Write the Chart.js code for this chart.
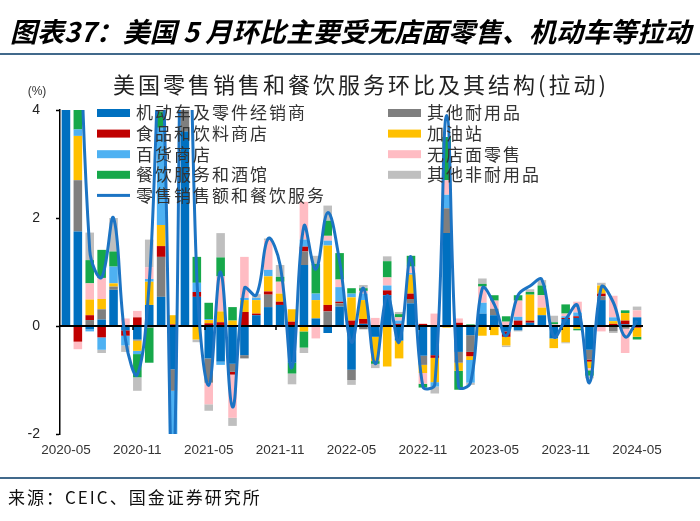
<!DOCTYPE html>
<html>
<head>
<meta charset="utf-8">
<script src="https://cdn.jsdelivr.net/npm/chart.js@4.4.0/dist/chart.umd.min.js"></script>
<style>
  body { margin: 0; background: #fff; }
  #wrap { position: relative; width: 700px; height: 521px; overflow: hidden; }
  #chart { position: absolute; left: 0; top: 0; }
  .rule { position: absolute; left: 0; width: 700px; height: 2px; background: #41698b; }
  #headline { position: absolute; left: 10px; top: 11px; font: italic bold 27px "Noto Sans CJK SC"; white-space: nowrap; color: #000; }
  #source { position: absolute; left: 8px; top: 484px; font: 17px "Noto Sans CJK SC"; letter-spacing: 2px; color: #111; }
</style>
</head>
<body>
<div id="wrap">
  <canvas id="chart" width="700" height="521"></canvas>
  <div id="headline">图表37：美国 5 月环比主要受无店面零售、机动车等拉动</div>
  <div class="rule" style="top:53px"></div>
  <div class="rule" style="top:477px"></div>
  <div id="source">来源：CEIC、国金证券研究所</div>
</div>
<script>
// month labels, 2020-05 .. 2024-05
const months = [
  '2020-05','2020-06','2020-07','2020-08','2020-09','2020-10','2020-11','2020-12',
  '2021-01','2021-02','2021-03','2021-04','2021-05','2021-06','2021-07','2021-08',
  '2021-09','2021-10','2021-11','2021-12','2022-01','2022-02','2022-03','2022-04',
  '2022-05','2022-06','2022-07','2022-08','2022-09','2022-10','2022-11','2022-12',
  '2023-01','2023-02','2023-03','2023-04','2023-05','2023-06','2023-07','2023-08',
  '2023-09','2023-10','2023-11','2023-12','2024-01','2024-02','2024-03','2024-04',
  '2024-05'
];

// contributions, pct pts
const motorVehicles = [
  7.0, 1.75, -0.06, 0.12, 0.67, -0.08, -0.25, 0.39,
  0.54, -0.8, 3.6, 0.54, -0.6, -0.66, -0.7, -0.54,
  0.2, 0.35, 0.39, -0.68, 1.13, 0.14, -0.13, 0.36,
  -0.81, 0.04, -0.2, 0.57, -0.27, 0.42, -0.55, -0.54,
  1.72, -0.48, -0.17, 0.23, 0.2, -0.1, -0.08, 0.06,
  0.2, -0.23, 0.13, 0.15, -0.44, 0.48, 0, 0.03,
  0.16
];
const otherDurables = [
  3.5, 0.95, 0.11, 0.19, 0.06, 0, -0.02, -0.03,
  0.74, -0.4, 1.2, 0, -0.45, 0, -0.15, -0.06,
  0, 0.23, 0, 0, 0.25, 0, 0.27, 0.06,
  -0.19, -0.06, 0, 0, 0, 0.08, -0.17, 0,
  0.46, -0.2, -0.31, 0, 0.12, 0, 0, 0,
  0, 0, 0, 0, -0.18, 0.07, -0.1, -0.05,
  0
];
const foodBeverage = [
  0.2, -0.29, 0.09, -0.21, 0, -0.1, 0.16, 0,
  0.2, 0.03, 0.3, 0.09, 0.05, 0.07, -0.05, 0.26,
  0.03, 0.06, 0.06, 0.08, 0.09, 0, 0.12, 0.03,
  0.1, 0.09, 0, 0.09, 0.04, 0.1, 0.04, -0.05,
  0, 0.06, -0.08, 0, 0, -0.1, 0.1, 0.04,
  0, 0, 0.02, 0.03, -0.04, 0.05, 0.04, 0.07,
  -0.03
];
const gasStations = [
  0.8, 0.82, 0.29, 0.19, 0.06, 0, -0.19, 0.43,
  0.39, 0.17, 0.5, -0.25, 0.06, 0.2, 0.1, 0.22,
  0.25, 0.28, 0.15, 0.23, -0.1, 0.34, 1.1, 0,
  0.43, 0.35, -0.45, -0.75, -0.33, 0.35, -0.15, -0.45,
  -0.03, -0.15, -0.07, -0.18, -0.17, -0.16, 0, 0.48,
  0.14, -0.18, -0.3, -0.05, -0.12, 0.15, 0.05, 0.14,
  -0.17
];
const departmentStores = [
  1.0, 0.12, -0.04, -0.23, 0.31, -0.18, -0.06, 0.05,
  1.8, -0.9, 1.0, 0.17, 0.02, -0.06, 0, 0.04,
  0.04, 0.12, 0, 0, 0.13, 0.12, 0.09, 0.27,
  0.07, 0.12, 0, 0.09, 0.06, 0.03, 0, -0.08,
  0.25, 0, -0.42, 0.2, 0, 0, 0.07, 0,
  0, 0, 0.03, 0.07, 0, 0, 0.07, 0,
  0
];
const nonstore = [
  0.3, -0.14, 0.3, 0.39, 0, 0.14, 0.12, 0.22,
  0, -0.5, 0.8, 0, -0.4, 0.65, -0.8, 0.76,
  0, 0.55, 0.22, 0, 0.7, -0.23, 0.09, 0.14,
  0, 0.05, 0.15, 0.15, 0.06, 0.12, -0.2, 0.23,
  0.27, 0.08, 0, 0.3, 0.15, 0.08, 0.3, 0,
  0.23, 0.03, 0.05, 0.2, -0.04, -0.1, 0.4, -0.45,
  0.13
];
const foodServices = [
  3.5, 2.9, 0.43, 0.52, 0.28, 0, -0.43, -0.65,
  0.3, -0.3, 1.2, 0.48, 0.3, 0.35, 0.25, 0,
  0, 0, 0.09, -0.2, -0.3, 0.55, 0.28, 0.49,
  0.1, 0.05, -0.05, 0.3, 0.06, 0.2, -0.07, 0,
  0.8, -0.35, 0.03, 0.05, 0.1, 0.1, 0.1, 0.05,
  0.18, 0.04, 0.17, -0.03, -0.1, 0, 0, 0.05,
  -0.05
];
const otherNondurables = [
  1.9, 1.3, 0.51, -0.06, 0.62, -0.12, -0.25, 0.51,
  0.5, -0.3, 1.0, -0.05, -0.12, 0.45, -0.15, 0,
  0.07, 0.03, 0.22, -0.2, -0.1, 0.15, 0.28, 0,
  -0.09, 0.06, -0.08, 0.09, 0.04, 0, 0, -0.13,
  0, 0, -0.04, 0.1, 0, -0.03, -0.02, 0.05,
  0.1, 0.12, -0.02, 0, -0.05, 0.05, -0.03, 0,
  0.07
];
// retail & food services total, m/m %
const totalRetail = [
  18.2, 8.0, 1.4, 0.9, 2.0, -0.25, -0.9, 0.8,
  5.3, -3.0, 9.6, 0.9, -1.1, 1.0, -1.5, 0.7,
  0.57, 1.62, 1.13, -0.77, 1.85, 1.05, 2.1, 1.2,
  -0.3, 0.7, -0.7, 0.56, -0.3, 1.28, -1.12, -1.08,
  3.9, -1.12, -1.05, 0.7, 0.4, -0.18, 0.57, 0.74,
  0.86, -0.2, 0.12, 0.38, -1.05, 0.72, 0.44, -0.2,
  0.1
];

const yTicks = [-2, 0, 2, 4];

const barSeries = [
  { label: '机动车及零件经销商', data: motorVehicles, color: '#0070c0' },
  { label: '其他耐用品', data: otherDurables, color: '#7f7f7f' },
  { label: '食品和饮料商店', data: foodBeverage, color: '#c00000' },
  { label: '加油站', data: gasStations, color: '#ffc000' },
  { label: '百货商店', data: departmentStores, color: '#4eb1f2' },
  { label: '无店面零售', data: nonstore, color: '#ffbcc3' },
  { label: '餐饮服务和酒馆', data: foodServices, color: '#16a84a' },
  { label: '其他非耐用品', data: otherNondurables, color: '#bfbfbf' },
];
const lineLabel = '零售销售额和餐饮服务';
const lineColor = '#1c74c4';

// legend columns (dataset labels), read top to bottom
const legendLeft = ['机动车及零件经销商', '食品和饮料商店', '百货商店', '餐饮服务和酒馆', lineLabel];
const legendRight = ['其他耐用品', '加油站', '无店面零售', '其他非耐用品'];

const datasets = barSeries.map(s => ({
  type: 'bar',
  label: s.label,
  data: s.data,
  backgroundColor: s.color,
  borderWidth: 0,
  barPercentage: 0.72,
  categoryPercentage: 1,
  order: 1,
}));
datasets.push({
  type: 'line',
  label: lineLabel,
  data: totalRetail,
  borderColor: lineColor,
  borderWidth: 3,
  pointRadius: 0,
  tension: 0.4,
  fill: false,
  stack: 'total',
  order: 0,
});

const decor = {
  id: 'decor',
  beforeDatasetDraw(chart, args) {
    if (args.meta.type !== 'line') return;
    const { ctx, chartArea, scales: { x, y } } = chart;
    const y0 = y.getPixelForValue(0);
    ctx.save();
    ctx.strokeStyle = '#000';
    ctx.lineWidth = 2;
    ctx.beginPath();
    ctx.moveTo(chartArea.left, y0);
    ctx.lineTo(chartArea.right, y0);
    ctx.stroke();
    ctx.lineWidth = 1.5;
    months.forEach((m, i) => {
      if (i === 0 || i % 6 !== 0) return;
      const px = Math.round(x.getPixelForValue(i - 0.5)) + 2;
      ctx.beginPath();
      ctx.moveTo(px, y0);
      ctx.lineTo(px, y0 + 4);
      ctx.stroke();
    });
    ctx.restore();
  },
  afterDatasetsDraw(chart) {
    const { ctx, chartArea } = chart;
    ctx.save();
    // chart title
    ctx.fillStyle = '#222';
    ctx.textAlign = 'center';
    ctx.textBaseline = 'middle';
    ctx.font = '22px "Noto Sans CJK SC"';
    ctx.letterSpacing = '3px';
    ctx.fillText('美国零售销售和餐饮服务环比及其结构(拉动)', 361, 85);
    // unit
    ctx.letterSpacing = '0px';
    ctx.font = '12px "Liberation Sans"';
    ctx.fillStyle = '#333';
    ctx.fillText('(%)', 37, 92);
    // legend
    ctx.textAlign = 'left';
    ctx.font = '17px "Noto Sans CJK SC"';
    ctx.letterSpacing = '2px';
    const rowY = i => chartArea.top + 3 + i * 20.6;
    const drawCol = (labels, x0) => {
      labels.forEach((lab, i) => {
        const ds = chart.data.datasets.find(d => d.label === lab);
        const cy = rowY(i);
        if (ds.type === 'line') {
          ctx.fillStyle = ds.borderColor;
          ctx.fillRect(x0, cy - 1.5, 33, 3);
        } else {
          ctx.fillStyle = ds.backgroundColor;
          ctx.fillRect(x0, cy - 4, 33, 8);
        }
        ctx.fillStyle = '#333';
        ctx.fillText(lab, x0 + 39, cy);
      });
    };
    drawCol(legendLeft, 97);
    drawCol(legendRight, 388);
    ctx.restore();
  }
};

new Chart(document.getElementById('chart'), {
  type: 'bar',
  data: { labels: months, datasets },
  options: {
    responsive: false,
    animation: false,
    devicePixelRatio: 1,
    layout: { padding: { left: 0, right: 57, top: 110, bottom: 57 } },
    plugins: {
      legend: { display: false },
      title: { display: false },
      tooltip: { enabled: false },
    },
    scales: {
      x: {
        stacked: true,
        grid: { display: false, drawTicks: false },
        border: { display: false },
        ticks: {
          autoSkip: false,
          maxRotation: 0,
          padding: 8,
          color: '#333',
          font: { family: 'Liberation Sans', size: 13.5 },
          callback: (v, i) => (i % 6 === 0 ? months[i] : null),
        },
        afterFit: s => { s.height = 30; },
      },
      y: {
        stacked: true,
        min: -2,
        max: 4,
        afterBuildTicks: s => { s.ticks = yTicks.map(v => ({ value: v })); },
        grid: {
          drawOnChartArea: false,
          drawTicks: true,
          tickLength: 4,
          tickColor: '#000',
          tickWidth: 1.5,
        },
        border: { display: true, color: '#000', width: 1.5 },
        ticks: {
          padding: 16,
          color: '#222',
          font: { family: 'Liberation Sans', size: 14 },
        },
        afterFit: s => { s.width = 60; },
      },
    },
  },
  plugins: [decor],
});
</script>
</body>
</html>
